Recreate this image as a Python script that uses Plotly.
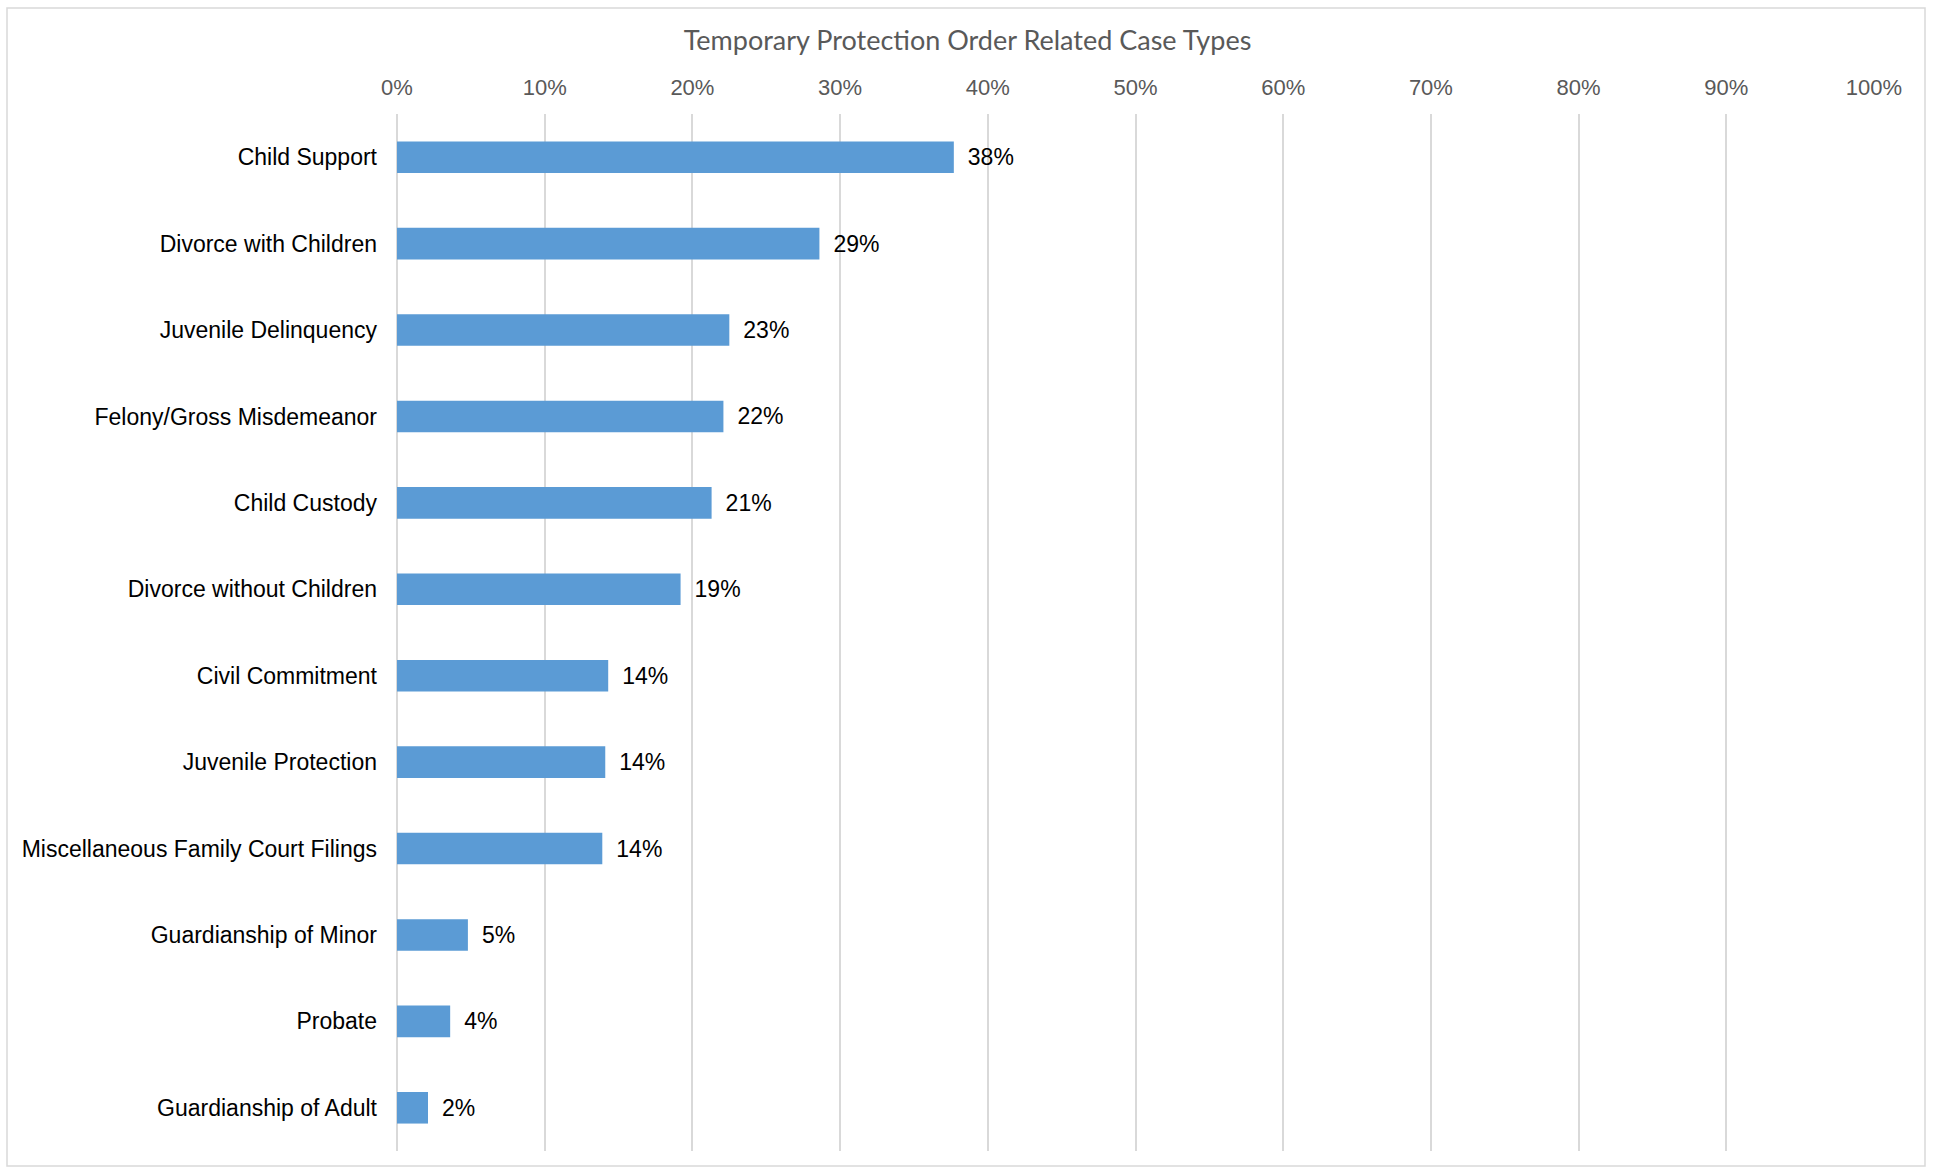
import plotly.graph_objects as go

title_text = "Temporary Protection Order Related Case Types"

categories = [
    "Child Support",
    "Divorce with Children",
    "Juvenile Delinquency",
    "Felony/Gross Misdemeanor",
    "Child Custody",
    "Divorce without Children",
    "Civil Commitment",
    "Juvenile Protection",
    "Miscellaneous Family Court Filings",
    "Guardianship of Minor",
    "Probate",
    "Guardianship of Adult",
]

shares = [0.377, 0.286, 0.225, 0.221, 0.213, 0.192, 0.143, 0.141, 0.139, 0.048, 0.036, 0.021]

tick_values = [0.0, 0.1, 0.2, 0.3, 0.4, 0.5, 0.6, 0.7, 0.8, 0.9, 1.0]
tick_labels = ["0%", "10%", "20%", "30%", "40%", "50%", "60%", "70%", "80%", "90%", "100%"]

BAR_COLOR = "#5B9BD5"
GRID_COLOR = "#D9D9D9"
LABEL_FONT = "Liberation Sans, Arial, sans-serif"

fig = go.Figure(
    go.Bar(
        x=shares,
        y=categories,
        orientation="h",
        marker=dict(color=BAR_COLOR, line=dict(width=0)),
        texttemplate="\u00a0\u2009%{x:.0%}",
        textposition="outside",
        textfont=dict(family=LABEL_FONT, size=23, color="#000000"),
        constraintext="none",
        cliponaxis=False,
        hoverinfo="skip",
    )
)

fig.update_layout(
    width=1935,
    height=1169,
    margin=dict(l=397, r=61, t=114, b=18, autoexpand=False),
    paper_bgcolor="#FFFFFF",
    plot_bgcolor="#FFFFFF",
    bargap=0.635,
    showlegend=False,
    title=dict(
        text=title_text,
        x=0.5,
        xref="container",
        xanchor="center",
        y=1 - 41 / 1169,
        yref="container",
        yanchor="middle",
        font=dict(family="Lato, Open Sans, sans-serif", size=27, color="#595959"),
    ),
    xaxis=dict(
        side="top",
        range=[0, 1],
        tickvals=tick_values,
        ticktext=tick_labels,
        showgrid=True,
        gridcolor=GRID_COLOR,
        gridwidth=1.5,
        zeroline=True,
        zerolinecolor=GRID_COLOR,
        zerolinewidth=1.5,
        showline=False,
        ticks="",
        ticklabelstandoff=14,
        tickfont=dict(family=LABEL_FONT, size=22, color="#595959"),
        fixedrange=True,
    ),
    yaxis=dict(
        autorange="reversed",
        showgrid=False,
        zeroline=False,
        showline=False,
        ticks="",
        ticklabelstandoff=19,
        tickfont=dict(family=LABEL_FONT, size=23, color="#000000"),
        fixedrange=True,
    ),
    shapes=[
        dict(
            type="rect",
            xref="paper",
            yref="paper",
            x0=(7 - 397) / 1477,
            x1=(1925 - 397) / 1477,
            y0=(1151 - 1166) / 1037,
            y1=1 + (114 - 8) / 1037,
            line=dict(color=GRID_COLOR, width=1.5),
            fillcolor="rgba(0,0,0,0)",
            layer="below",
        )
    ],
)

fig.write_html(
    "out.html",
    config={"displayModeBar": False},
    post_script="document.body.style.margin='0';document.body.style.overflow='hidden';",
)
